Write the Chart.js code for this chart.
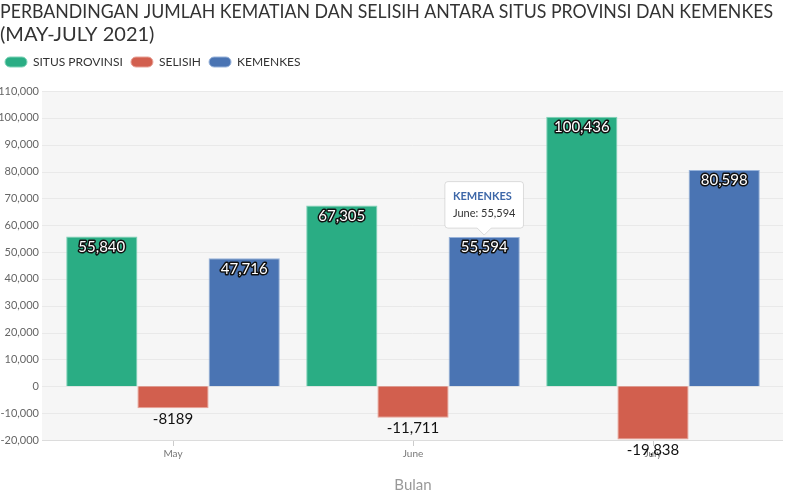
<!DOCTYPE html>
<html>
<head>
<meta charset="utf-8">
<script src="https://cdn.jsdelivr.net/npm/chart.js@4.4.1/dist/chart.umd.min.js"></script>
<style>
  html, body { margin: 0; padding: 0; background: #fff; }
  #wrap { width: 800px; height: 500px; }
</style>
</head>
<body>
<div id="wrap"><canvas id="deathChart"></canvas></div>
<script>
const months = ['May', 'June', 'July'];
const situsProvinsi = [55840, 67305, 100436];
const selisih = [-8189, -11711, -19838];
const kemenkes = [47716, 55594, 80598];

// highcharts-style: no grouping below 5 digits
function fmt(v) {
    return Math.abs(v) >= 10000 ? v.toLocaleString('en-US') : String(v);
}

// grey plot band + horizontal grid, a bit wider than the category area
const plotBg = {
    id: 'plotBg',
    beforeDatasetsDraw(chart) {
        const { ctx, chartArea: a, scales: { y } } = chart;
        const l = a.left - 11, r = a.right + 10;
        ctx.save();
        ctx.fillStyle = '#f6f6f6';
        ctx.fillRect(l, a.top, r - l, a.bottom - a.top);
        ctx.strokeStyle = '#e9e9e9';
        ctx.lineWidth = 1;
        y.ticks.forEach(t => {
            const py = Math.round(y.getPixelForValue(t.value)) + 0.5;
            ctx.beginPath();
            ctx.moveTo(l, py);
            ctx.lineTo(r, py);
            ctx.stroke();
        });
        ctx.strokeStyle = '#dcdcdc';
        const by = Math.round(a.bottom) + 0.5;
        ctx.beginPath();
        ctx.moveTo(l, by);
        ctx.lineTo(r, by);
        ctx.stroke();
        ctx.restore();
    }
};

const barLabels = {
    id: 'barLabels',
    afterDatasetsDraw(chart) {
        const ctx = chart.ctx;
        ctx.save();
        ctx.font = '15px Lato';
        ctx.textAlign = 'center';
        ctx.textBaseline = 'top';
        ctx.lineJoin = 'round';
        chart.data.datasets.forEach((ds, di) => {
            chart.getDatasetMeta(di).data.forEach((bar, i) => {
                const v = ds.data[i];
                const txt = fmt(v);
                if (v >= 0) {
                    ctx.lineWidth = 3;
                    ctx.strokeStyle = '#111';
                    ctx.strokeText(txt, bar.x, bar.y + 3);
                    ctx.fillStyle = '#fff';
                    ctx.fillText(txt, bar.x, bar.y + 3);
                } else {
                    ctx.fillStyle = '#111';
                    ctx.fillText(txt, bar.x, bar.y + 3);
                }
            });
        });
        ctx.restore();
    }
};

const legendGap = {
    id: 'legendGap',
    beforeInit(chart) {
        const fit = chart.legend.fit;
        chart.legend.fit = function () {
            fit.bind(chart.legend)();
            this.height += 13;
        };
    }
};

const ctx = document.getElementById('deathChart').getContext('2d');
const deathChart = new Chart(ctx, {
    type: 'bar',
    data: {
        labels: months,
        datasets: [
            { label: 'SITUS PROVINSI', data: situsProvinsi, backgroundColor: '#2aad84', borderColor: '#7fd3b7', borderWidth: 1 },
            { label: 'SELISIH', data: selisih, backgroundColor: '#d25f4e', borderColor: '#e8a398', borderWidth: 1 },
            { label: 'KEMENKES', data: kemenkes, backgroundColor: '#4a74b3', borderColor: '#98b3da', borderWidth: 1 }
        ]
    },
    options: {
        responsive: true,
        maintainAspectRatio: false,
        animation: false,
        layout: { padding: { left: 0, right: 27, top: 0, bottom: 2 } },
        datasets: { bar: { categoryPercentage: 0.89, barPercentage: 1.0 } },
        plugins: {
            title: {
                display: true,
                text: ['PERBANDINGAN JUMLAH KEMATIAN DAN SELISIH ANTARA SITUS PROVINSI DAN KEMENKES', '(MAY-JULY 2021)'],
                align: 'start',
                color: '#333',
                font: { family: 'Lato', size: 20, weight: 'normal', lineHeight: 1.15 },
                padding: { top: 0, bottom: 5 }
            },
            legend: {
                align: 'start',
                labels: {
                    color: '#333',
                    font: { family: 'Lato', size: 12 },
                    boxWidth: 22,
                    boxHeight: 10,
                    useBorderRadius: true,
                    borderRadius: 5,
                    padding: 5,
                    generateLabels(chart) {
                        return Chart.defaults.plugins.legend.labels.generateLabels(chart)
                            .map(l => Object.assign(l, { text: l.text + ' ' }));
                    }
                }
            },
            tooltip: {
                enabled: true,
                backgroundColor: '#fff',
                borderColor: 'rgba(0,0,0,0.12)',
                borderWidth: 1,
                titleColor: '#3d67a8',
                bodyColor: '#333',
                titleFont: { family: 'Lato', size: 11, weight: 'bold' },
                bodyFont: { family: 'Lato', size: 11 },
                titleMarginBottom: 4,
                padding: 8,
                caretSize: 7,
                cornerRadius: 3,
                displayColors: false,
                yAlign: 'bottom',
                callbacks: {
                    title: items => items[0].dataset.label,
                    label: item => item.label + ': ' + fmt(item.raw)
                }
            }
        },
        scales: {
            x: {
                grid: { display: true, offset: false, drawOnChartArea: false, color: '#ccc', tickLength: 6 },
                border: { display: false },
                ticks: { color: '#777', font: { family: 'Lato', size: 10 }, padding: 2 },
                title: { display: true, text: 'Bulan', color: '#999', font: { family: 'Lato', size: 15 }, padding: { top: 14 } }
            },
            y: {
                min: -20000,
                max: 110000,
                grid: { display: false },
                border: { display: false },
                afterFit(scale) { scale.width = 53; },
                ticks: {
                    stepSize: 10000,
                    color: '#666',
                    font: { family: 'Lato', size: 11 },
                    padding: 6,
                    callback: v => v.toLocaleString('en-US')
                }
            }
        }
    },
    plugins: [plotBg, barLabels, legendGap]
});

const kBar = deathChart.getDatasetMeta(2).data[1];
deathChart.tooltip.setActiveElements([{ datasetIndex: 2, index: 1 }], { x: kBar.x, y: kBar.y });
deathChart.update();
</script>
</body>
</html>
